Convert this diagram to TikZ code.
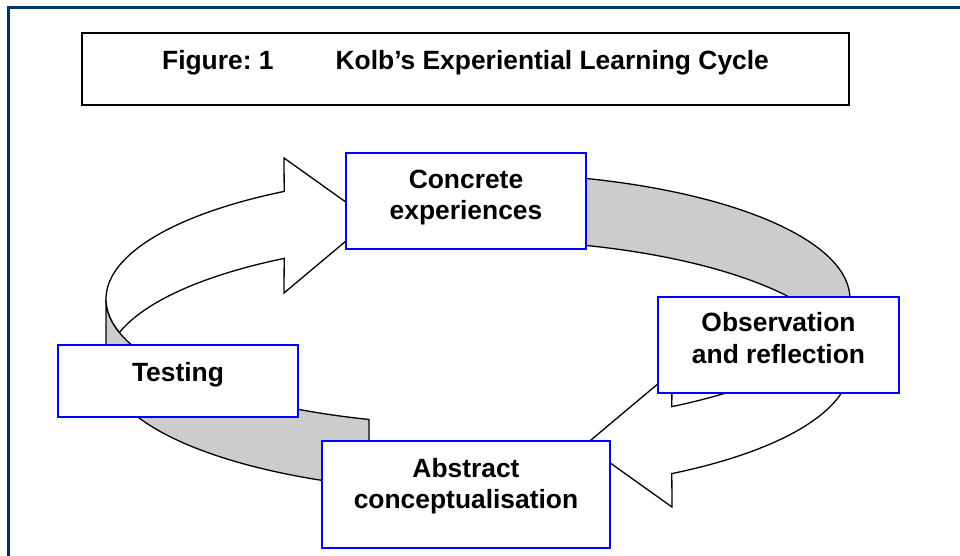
\documentclass[tikz,border=0pt]{standalone}
\usepackage{fontspec}
\setmainfont{Liberation Sans}
\usepackage{tikz}
\frenchspacing

\definecolor{framenavy}{RGB}{0,51,102}
\definecolor{bandgray}{RGB}{204,204,204}

\begin{document}
\begin{tikzpicture}[x=1pt,y=-1pt,
        every node/.style={font=\bfseries\fontsize{26.4}{31.7}\selectfont,inner sep=0pt},
        stage/.style={draw=blue,line width=2pt,fill=white},
        band/.style={draw=black,line width=1.3pt,line join=miter},
        bandarc/.style={x radius=372,y radius=126}]
        \useasboundingbox (0,0) rectangle (960,556);
        \draw[framenavy,line width=2.5pt] (8.5,7.5) rectangle (1000,600);

        % back of the ring
        \draw[band,fill=bandgray] (106,299) arc[bandarc,start angle=180,end angle=107.04]
            -- ++(0,67) arc[bandarc,start angle=107.04,end angle=180] -- cycle;
        \draw[band,fill=bandgray] (850,366) arc[bandarc,start angle=0,end angle=-73.5]
            -- ++(0,-67) arc[bandarc,start angle=-73.5,end angle=0] -- cycle;

        % front of the ring, with the heads
        \draw[band,fill=white] (284.2,191.4) arc[bandarc,start angle=238.6,end angle=164.58]
            arc[bandarc,start angle=195.42,end angle=238.6] -- (284,293) -- (371,220) -- (284,158) -- cycle;
        \draw[band,fill=white] (671.8,473.6) arc[bandarc,start angle=58.6,end angle=-15.42]
            arc[bandarc,start angle=15.42,end angle=58.6] -- (672,372) -- (585,445) -- (672,507) -- cycle;

        \node[draw,line width=2pt,minimum width=767pt,minimum height=72.5pt,text height=36.5pt,text depth=36pt] (title) at (465.5,69.25)
            {Figure: 1\hspace{62pt}Kolb’s Experiential Learning Cycle};

        \node[stage,minimum width=240pt,minimum height=96pt,text height=35pt,text depth=61pt] (concrete) at (466,201)
            {\begin{tabular}[t]{@{}c@{}}Concrete\\experiences\end{tabular}};
        \node[stage,minimum width=241pt,minimum height=96pt,text height=34.7pt,text depth=61.3pt] (observation) at (778.5,345)
            {\begin{tabular}[t]{@{}c@{}}Observation\\and reflection\end{tabular}};
        \node[stage,minimum width=288pt,minimum height=107pt,text height=36pt,text depth=71pt] (abstract) at (466,494.5)
            {\begin{tabular}[t]{@{}c@{}}Abstract\\conceptualisation\end{tabular}};
        \node[stage,minimum width=240pt,minimum height=72pt,text height=36pt,text depth=36pt] (testing) at (178,381) {Testing};
\end{tikzpicture}
\end{document}
